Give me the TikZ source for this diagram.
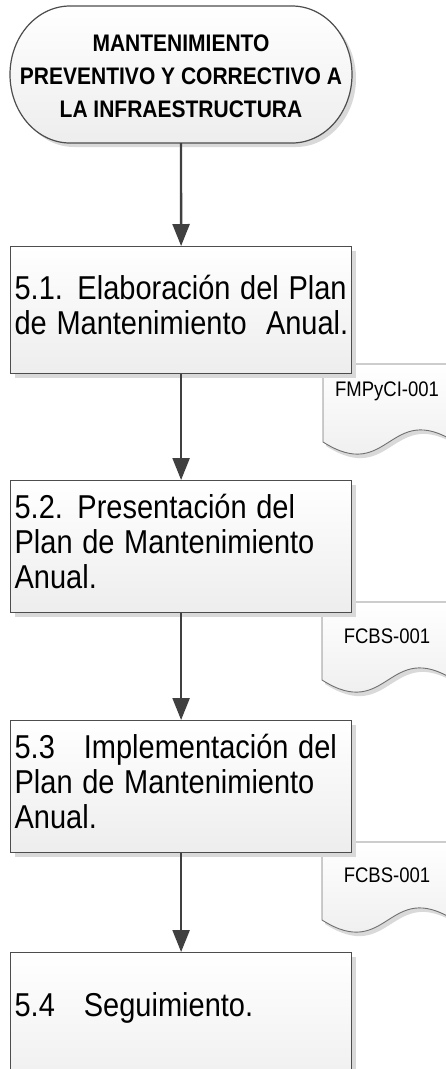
\documentclass[tikz,border=0pt]{standalone}
\usepackage{fontspec}
\setmainfont{Liberation Sans}
\usetikzlibrary{arrows.meta,shadows}
\definecolor{edgec}{HTML}{4D4D4D}
\definecolor{arrowc}{HTML}{404040}
\definecolor{shadec}{HTML}{D9D9D9}
\definecolor{docedge}{HTML}{707070}
\newcommand{\vstretch}[1]{\scalebox{1}[1.14]{#1}}
\newcommand{\termpath}{(70,6) -- (292,6) .. controls (325.1,6) and (352,36.7) .. (352,74.5) .. controls (352,112.3) and (325.1,143) .. (292,143) -- (70,143) .. controls (36.9,143) and (10,112.3) .. (10,74.5) .. controls (10,36.7) and (36.9,6) .. (70,6) -- cycle}
\newcommand{\docpath}{(0,0) -- (132,0) -- (132,78) .. controls (66,36) and (66,120) .. (0,78) -- cycle}
\begin{document}
\begin{tikzpicture}[x=1pt,y=-1pt,
  box/.style={draw=edgec, line width=1.2pt, top color=white, bottom color=black!7,
    minimum width=341pt, text width=333pt, inner xsep=4pt, inner ysep=0pt, align=left,
    font=\fontsize{29}{30.7}\selectfont,
    general shadow={fill=shadec, shadow xshift=4pt, shadow yshift=-4pt}, anchor=north west},
  flow/.style={draw=arrowc, line width=2.4pt, -{Triangle[length=22pt,width=17pt]}},
  doctext/.style={font=\fontsize{18.5}{20}\selectfont, inner sep=0pt},
  docshape/.style={draw=docedge, line width=0.9pt, top color=white, bottom color=black!8}
]
\useasboundingbox (0,0) rectangle (446,1069);
\clip (0,0) rectangle (446,1069);

% terminator
\fill[shadec, shift={(4,4)}] \termpath;
\draw[draw=edgec, line width=1.2pt, top color=white, bottom color=black!7] \termpath;
\node[minimum width=342pt, minimum height=137pt, inner sep=0pt] (t) at (181,74.5) {};
\node[inner sep=0pt, font=\bfseries\fontsize{21}{29}\selectfont, align=center] (tt) at (181,78)
  {\vstretch{\begin{tabular}{@{}c@{}}MANTENIMIENTO\\PREVENTIVO Y CORRECTIVO A\\LA INFRAESTRUCTURA\end{tabular}}};

% documents
\begin{scope}[shift={(323,364)}]
  \fill[shadec, shift={(3,4)}] \docpath;
  \draw[docshape] \docpath;
\end{scope}
\begin{scope}[shift={(322,602)}]
  \fill[shadec, shift={(3,4)}] \docpath;
  \draw[docshape] \docpath;
\end{scope}
\begin{scope}[shift={(322,842)}]
  \fill[shadec, shift={(3,4)}] \docpath;
  \draw[docshape] \docpath;
\end{scope}
\node[doctext] (d1) at (387,391) {\vstretch{FMPyCI-001}};
\node[doctext] (d2) at (387,636) {\vstretch{FCBS-001}};
\node[doctext] (d3) at (387,875) {\vstretch{FCBS-001}};

% process boxes
\node[box, minimum height=127pt] (b1) at (10,246)
  {\vstretch{\begin{tabular}{@{}l@{}}5.1. Elaboración del Plan\\de Mantenimiento\ \ Anual.\end{tabular}}};
\node[box, minimum height=132pt] (b2) at (10,480)
  {\vstretch{\begin{tabular}{@{}l@{}}5.2. Presentación del\\Plan de Mantenimiento\\Anual.\end{tabular}}};
\node[box, minimum height=132pt] (b3) at (10,720)
  {\vstretch{\begin{tabular}{@{}l@{}}5.3\ \ \ Implementación del\\Plan de Mantenimiento\\Anual.\end{tabular}}};
\node[box, minimum height=148pt] (b4) at (10,952)
  {\vstretch{\begin{tabular}{@{}l@{}}5.4\ \ \ Seguimiento.\\ \mbox{}\end{tabular}}};

% connectors
\draw[flow] (t.south) -- (b1.north);
\draw[flow] (b1.south) -- (b2.north);
\draw[flow] (b2.south) -- (b3.north);
\draw[flow] (b3.south) -- (b4.north);
\end{tikzpicture}
\end{document}
